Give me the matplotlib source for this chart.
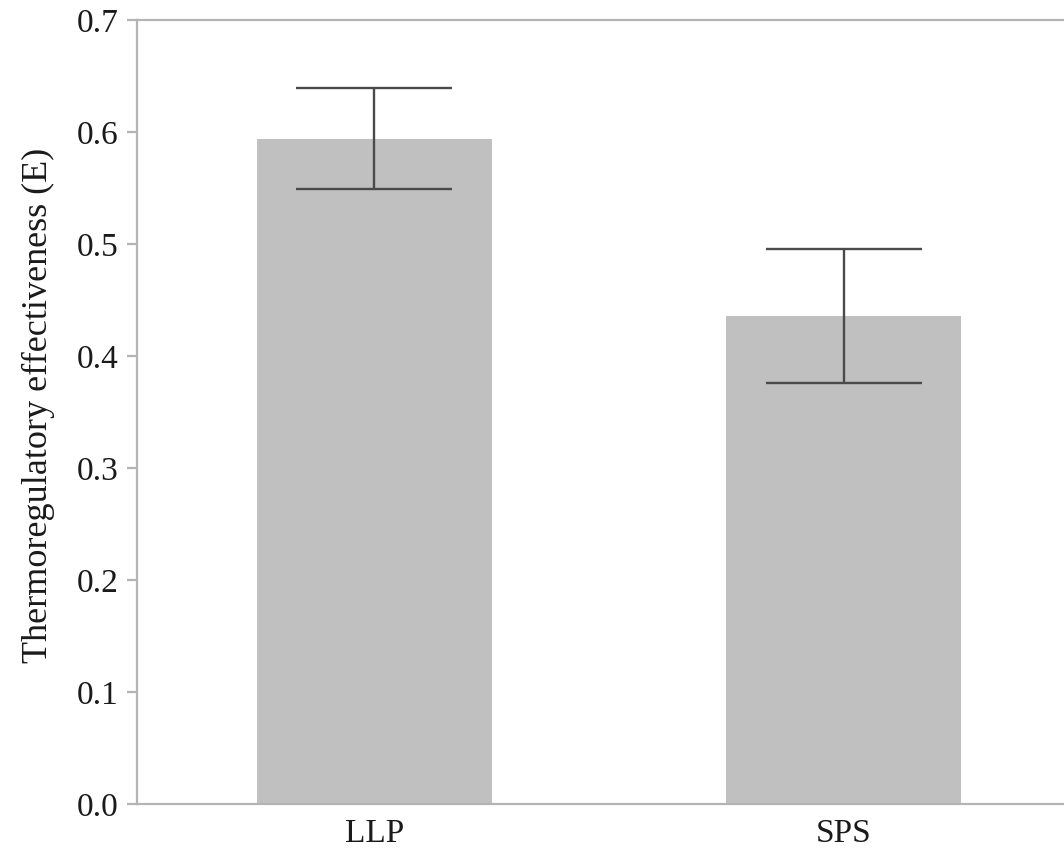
import matplotlib
matplotlib.use("Agg")
import matplotlib.pyplot as plt

categories = ["LLP", "SPS"]
means = [0.594, 0.436]
errors = [0.045, 0.060]
yticks = [0.0, 0.1, 0.2, 0.3, 0.4, 0.5, 0.6, 0.7]

plt.rcParams['font.family'] = ['Liberation Serif', 'DejaVu Serif']

fig = plt.figure(figsize=(10.64, 8.48), dpi=100)
ax = fig.add_axes([137/1064, 1 - 804.3/848, 1 - 137/1064, (804.3 - 20)/848])

x = list(range(len(categories)))
ax.bar(x, means, width=0.5, color='#c0c0c0', edgecolor='none', zorder=2)
ax.errorbar(x, means, yerr=errors, fmt='none', ecolor='#4a4a4a',
            elinewidth=1.7, capsize=56.5, capthick=1.7, zorder=3)

ax.set_xlim(-0.505, 1.469)
ax.set_ylim(0, 0.7)
ax.set_yticks(yticks)
ax.set_yticklabels([f"{t:.1f}" for t in yticks])
ax.set_xticks(x)
ax.set_xticklabels(categories)

for side in ['left', 'top', 'bottom']:
    ax.spines[side].set_color('#b4b4b4')
    ax.spines[side].set_linewidth(1.6)
ax.spines['right'].set_visible(False)

ax.tick_params(axis='y', length=7, width=1.6, color='#b4b4b4', labelsize=24,
               labelcolor='#1a1a1a', pad=6)
ax.tick_params(axis='x', length=0, labelsize=24, labelcolor='#1a1a1a', pad=10)

ax.set_ylabel("Thermoregulatory effectiveness (E)", fontsize=26, color='#1a1a1a',
              labelpad=16)
ax.yaxis.set_label_coords(-0.088, 0.509)

fig.savefig("out.png", dpi=100)
